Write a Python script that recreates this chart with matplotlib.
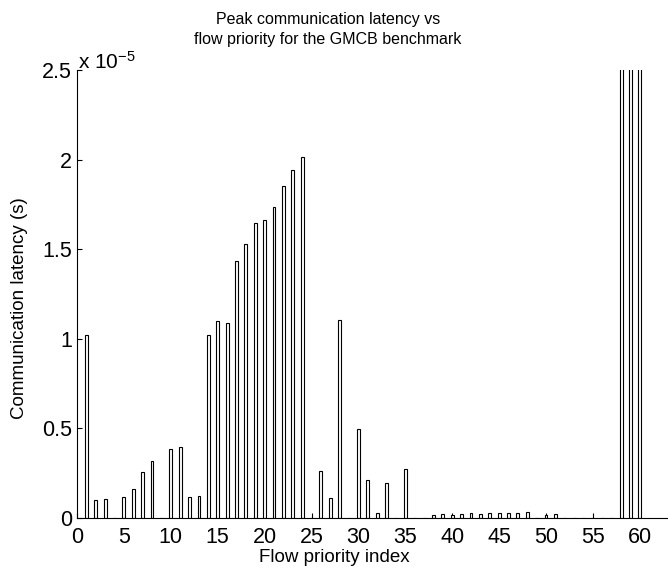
import matplotlib
matplotlib.use("Agg")
import matplotlib.pyplot as plt
from matplotlib.ticker import FuncFormatter

plt.rcParams['font.family'] = ['Liberation Sans', 'DejaVu Sans']
plt.rcParams['mathtext.fontset'] = 'custom'
plt.rcParams['mathtext.rm'] = 'Liberation Sans'
plt.rcParams['mathtext.it'] = 'Liberation Sans'

# Data (latency in units of 1e-5 s)
priority_index = list(range(1, 61))
latency_e5 = [
    1.02, 0.10, 0.108, 0.0, 0.115, 0.162, 0.258, 0.316, 0.0, 0.387,
    0.395, 0.115, 0.123, 1.02, 1.099, 1.088, 1.436, 1.527, 1.644, 1.661,
    1.735, 1.851, 1.944, 2.016, 0.0, 0.26, 0.112, 1.103, 0.0, 0.495,
    0.21, 0.026, 0.195, 0.0, 0.273, 0.0, 0.0, 0.017, 0.02, 0.017,
    0.02, 0.026, 0.02, 0.026, 0.03, 0.026, 0.03, 0.033, 0.0, 0.015,
    0.024, 0.0, 0.0, 0.0, 0.0, 0.0, 0.0, 2.9, 3.1, 3.0,
]
scale = 1e-5
latency = [v * scale for v in latency_e5]
x_ticks = list(range(0, 61, 5))
y_ticks_e5 = [0, 0.5, 1, 1.5, 2, 2.5]

W, H = 668, 568
fig = plt.figure(figsize=(W / 100, H / 100), dpi=100)
ax = fig.add_axes([77 / W, 1 - 518 / H, (668 - 77) / W, (518 - 70) / H])

ax.bar(priority_index, latency, width=0.3, color='white', edgecolor='black',
       linewidth=0.8, zorder=2)

ax.set_xlim(0, 63)
ax.set_ylim(0, 2.5 * scale)
ax.set_xticks(x_ticks)
ax.set_yticks([v * scale for v in y_ticks_e5])
ax.yaxis.set_major_formatter(FuncFormatter(lambda v, p: f"{v / scale:g}"))

for s in ['top', 'right']:
    ax.spines[s].set_visible(False)
for s in ['left', 'bottom']:
    ax.spines[s].set_linewidth(0.8)
    ax.spines[s].set_zorder(3)

ax.tick_params(axis='both', direction='in', length=3.6, width=0.8,
               labelsize=15.5, zorder=3)
ax.tick_params(axis='x', pad=6.5)
ax.tick_params(axis='y', pad=3.5)

fig.text(78 / W, 1 - 69 / H, r'x 10$^{-5}$', fontsize=15, ha='left', va='baseline')

fig.text(328 / W, 1 - 44 / H,
         'Peak communication latency vs\nflow priority for the GMCB benchmark',
         fontsize=11.5, ha='center', va='baseline', linespacing=1.45)

fig.text(334 / W, 1 - 557 / H, 'Flow priority index', fontsize=13.5,
         ha='center', va='center')
fig.text(20 / W, 1 - 308 / H, 'Communication latency (s)', fontsize=13.5,
         ha='center', va='center', rotation=90)

fig.savefig('out.png', dpi=100)
